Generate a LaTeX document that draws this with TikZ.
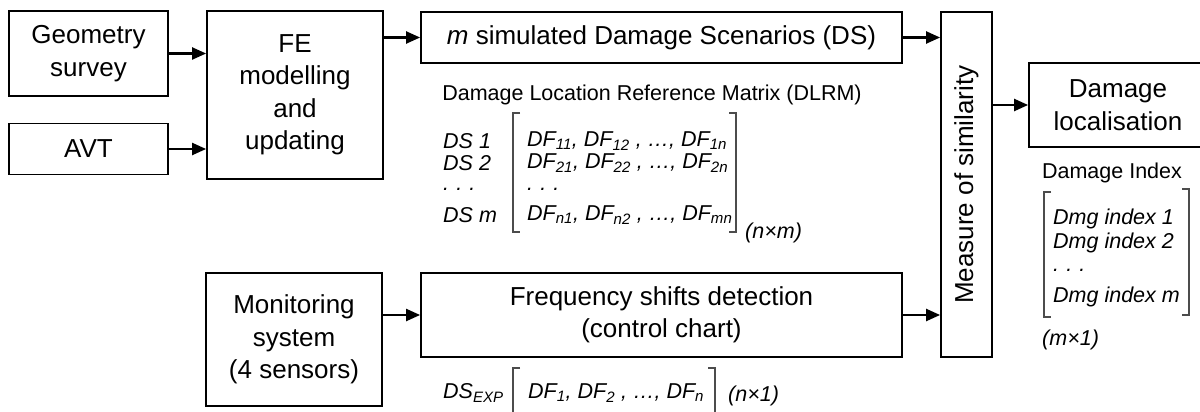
\documentclass[tikz,border=0pt]{standalone}
\usepackage{fontspec}
\setmainfont{Liberation Sans}
\usetikzlibrary{arrows.meta}

\begin{document}
\begin{tikzpicture}[x=1pt,y=-1pt,
    box/.style={draw,line width=1.8pt,align=center,inner sep=0pt,font=\fontsize{26}{32.5}\selectfont},
    arr/.style={line width=2.2pt,-{Triangle[length=14pt,width=12pt]}},
    brk/.style={line width=1.1pt,draw=black!70},
    small/.style={font=\fontsize{21.5}{26}\selectfont,inner sep=0pt},
    ent/.style={font=\fontsize{21.5}{26}\selectfont\itshape,inner sep=0pt,anchor=west}]
  \useasboundingbox (0,0) rectangle (1200,412);

  \node[box,minimum width=159pt,minimum height=85pt] (geo) at (88.5,53.5) {Geometry\\survey};
  \node[box,minimum width=159pt,minimum height=51pt] (avt) at (88.5,149) {AVT};
  \node[box,minimum width=176pt,minimum height=168pt] (fe) at (295,95) {FE\\modelling\\and\\updating};
  \node[box,minimum width=481pt,minimum height=51pt] (ds) at (661.5,37.5) {\textit{m} simulated Damage Scenarios (DS)};
  \node[box,rotate=90,minimum width=345pt,minimum height=51pt] (sim) at (966.5,184.5) {Measure of similarity};
  \node[box,minimum width=178pt,minimum height=84pt] (loc) at (1118,105) {Damage\\localisation};
  \node[box,line width=2.6pt,minimum width=176pt,minimum height=133pt] (mon) at (294,339.5) {Monitoring\\system\\(4 sensors)};
  \node[box,minimum width=481pt,minimum height=84pt] (freq) at (661.5,315) {Frequency shifts detection\\(control chart)};

  \draw[arr] (geo.east) -- (geo.east -| fe.west);
  \draw[arr] (avt.east) -- (avt.east -| fe.west);
  \draw[arr] (fe.east |- ds.west) -- (ds.west);
  \draw[arr] (ds.east) -- (ds.east -| sim.north);
  \draw[arr] (mon.east |- freq.west) -- (freq.west);
  \draw[arr] (freq.east) -- (freq.east -| sim.north);
  \draw[arr] (sim.south |- loc.west) -- (loc.west);

  \node[small] (dlrm) at (652,95) {Damage Location Reference Matrix (DLRM)};
  \node[ent] (ds1) at (443,141) {DS 1};
  \node[ent] (ds2) at (443,163) {DS 2};
  \node[ent] (dsd) at (443,189) {.\,\,.\,\,.};
  \node[ent] (dsm) at (443,215) {DS m};
  \node[ent] (df1) at (527,141) {DF\textsubscript{11}, DF\textsubscript{12} , …, DF\textsubscript{1n}};
  \node[ent] (df2) at (527,163) {DF\textsubscript{21}, DF\textsubscript{22} , …, DF\textsubscript{2n}};
  \node[ent] (dfd) at (527,189) {.\,\,.\,\,.};
  \node[ent] (dfm) at (527,215) {DF\textsubscript{n1}, DF\textsubscript{n2} , …, DF\textsubscript{mn}};
  \draw[brk] (520,113) -- (513,113) -- (513,232) -- (520,232);
  \draw[brk] (729,113) -- (736,113) -- (736,232) -- (729,232);
  \node[ent] (nm) at (745,233) {(n×m)};

  \node[ent] (dsexp) at (443,393) {DS\textsubscript{EXP}};
  \node[ent] (dfexp) at (528,393) {DF\textsubscript{1}, DF\textsubscript{2} , …, DF\textsubscript{n}};
  \draw[brk] (520,368) -- (513,368) -- (513,420);
  \draw[brk] (708,368) -- (715,368) -- (715,420);
  \node[ent] (n1) at (728,396) {(n×1)};

  \node[small] (dmgidx) at (1112,173) {Damage Index};
  \node[ent] (dmg1) at (1053,219) {Dmg index 1};
  \node[ent] (dmg2) at (1053,243) {Dmg index 2};
  \node[ent] (dmgd) at (1053,270) {.\,\,.\,\,.};
  \node[ent] (dmgm) at (1053,297) {Dmg index m};
  \draw[brk] (1051,192) -- (1044,192) -- (1044,317) -- (1051,317);
  \draw[brk] (1182,189) -- (1189,189) -- (1189,315) -- (1182,315);
  \node[ent] (m1) at (1042,340) {(m×1)};
\end{tikzpicture}
\end{document}
